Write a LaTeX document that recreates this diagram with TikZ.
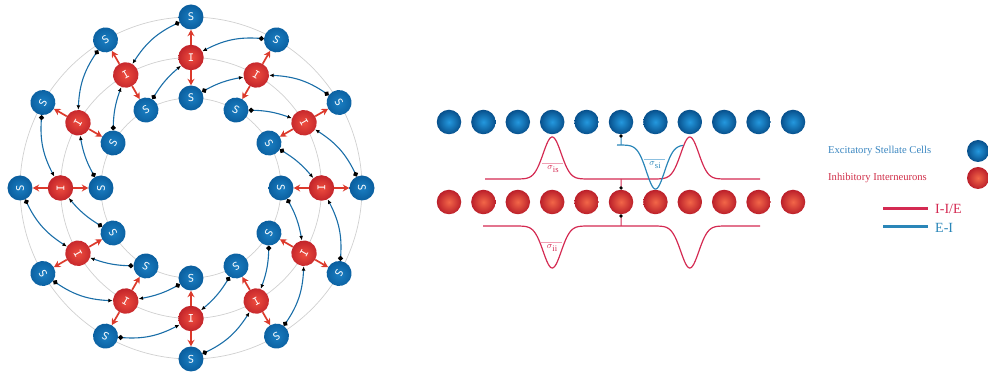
\documentclass[tikz,border=0pt]{standalone}
\usepackage{fontspec}
\setmainfont{Liberation Serif}
\newfontfamily\cellfont{DejaVu Sans Mono}
\usetikzlibrary{arrows.meta,bending}

% cell colours
\definecolor{sIn}{HTML}{1A7EC2}
\definecolor{sOut}{HTML}{0A5E9E}
\definecolor{iIn}{HTML}{EE4C3E}
\definecolor{iOut}{HTML}{C2242A}
\definecolor{bIn}{HTML}{2498DE}
\definecolor{bOut}{HTML}{07508C}
\definecolor{rIn}{HTML}{F26648}
\definecolor{rOut}{HTML}{BB1F2A}
% connector colours
\definecolor{inhArrow}{HTML}{DC3A2C}
\definecolor{excLink}{HTML}{1A6EA8}
\definecolor{crim}{HTML}{D42A52}
\definecolor{skyline}{HTML}{2A86B8}
\definecolor{ringgray}{HTML}{D0D0D0}
\definecolor{legBlue}{HTML}{3A86C0}
\definecolor{legRed}{HTML}{D0304A}
\definecolor{barRed}{HTML}{F0A0B4}
\definecolor{barBlue}{HTML}{8CC0E0}

\newcommand{\widthlabel}[1]{$\sigma$\raisebox{-3pt}{\fontsize{8.5}{8.5}\selectfont #1}}

\begin{document}
\begin{tikzpicture}[x=1pt,y=1pt,
  declare function={gs(\x,\m,\s)=exp(-min(0.5*((\x-\m)/\s)^2,14));},
  ringS/.style={circle, minimum size=25pt, inner sep=0pt, shade,
    inner color=sIn, outer color=sOut, text=white,
    font=\cellfont\fontsize{10.5}{10.5}\selectfont},
  ringI/.style={ringS, minimum size=25.5pt, inner color=iIn, outer color=iOut},
  ballB/.style={circle, minimum size=24.5pt, inner sep=0pt, shade,
    inner color=bIn, outer color=bOut},
  ballR/.style={ballB, inner color=rIn, outer color=rOut},
  redarrow/.style={draw=inhArrow, line width=1.7pt,
    -{Stealth[length=6.5pt,width=7pt,color=inhArrow]}},
  bluelink/.style={draw=excLink, line width=1.1pt,
    {Circle[length=5pt,color=black]}-{Latex[length=4.5pt,width=3.8pt,color=black]}},
  redcurve/.style={draw=crim, line width=1.2pt},
  bluecurve/.style={draw=skyline, line width=1.2pt},
  dotlink/.style={line width=1pt, {Circle[length=3.2pt,color=black]}-},
  lbl/.style={inner sep=0pt, font=\fontsize{9}{9}\selectfont},
  legtxt/.style={anchor=west, inner sep=0pt, font=\fontsize{10.6}{12}\selectfont},
  legkey/.style={anchor=west, inner sep=0pt, font=\fontsize{14}{16}\selectfont},
]
\useasboundingbox (-191,-186) rectangle (797,188);

% ---- ring network ----
\foreach \rr in {171,130.5,90}
  \draw[ringgray, line width=0.7pt] (0,0) circle (\rr);

\foreach \k in {0,...,11}{
  \pgfmathsetmacro\a{30*\k}
  \pgfmathsetmacro\rot{30*\k-90}
  \node[ringS, rotate=\rot] (so\k) at (\a:171) {S};
  \node[ringI, rotate=\rot] (i\k) at (\a:130.5) {I};
  \node[ringS, rotate=\rot] (si\k) at (\a:90) {S};
}

\foreach \k in {0,...,11}{
  \pgfmathtruncatemacro\km{mod(\k+11,12)}
  \pgfmathtruncatemacro\kp{mod(\k+1,12)}
  \draw[redarrow] (i\k) -- (so\k);
  \draw[redarrow] (i\k) -- (si\k);
  \draw[bluelink] (so\km) to[bend right=17] (i\k);
  \draw[bluelink] (si\kp) to[bend left=10] (i\k);
}

% ---- linear layers and connectivity profiles ----
\begin{scope}[shift={(-191,188)}, yscale=-1]
  \foreach \k in {0,...,10}{
    \pgfmathsetmacro\xx{449+34.4*\k}
    \node[ballB] (b\k) at (\xx,122) {};
    \node[ballR] (r\k) at (\xx,202) {};
  }

  % I -> S profile
  \draw[redcurve] plot[domain=485:760, samples=240]
    (\x,{179-42*gs(\x,552.2,9)-42*gs(\x,689.8,9)});
  % I -> I profile
  \draw[redcurve] plot[domain=483:760, samples=240]
    (\x,{226+42*gs(\x,552.2,9)+42*gs(\x,689.8,9)});
  % S -> I profile
  \draw[bluecurve] plot[domain=617:683, samples=120]
    (\x,{145+44*gs(\x,655.5,9)});

  \coordinate (jb) at (621,145);
  \coordinate (jt) at (621,179);
  \coordinate (jl) at (621,226);
  \draw[bluecurve, dotlink] (b5) -- (jb);
  \draw[redcurve, dotlink] (r5) -- (jt);
  \draw[redcurve, dotlink] (r5) -- (jl);

  % width labels
  \draw[barRed, line width=0.6pt] (542,163) -- (563,163);
  \node[lbl, text=crim] (sis) at (553,169.5) {\widthlabel{is}};
  \draw[barBlue, line width=0.6pt] (644,159) -- (665,159);
  \node[lbl, text=skyline] (ssi) at (655,165.5) {\widthlabel{si}};
  \draw[barRed, line width=0.6pt] (541,242) -- (562,242);
  \node[lbl, text=crim] (sii) at (552,248.5) {\widthlabel{ii}};

  % legend
  \node[legtxt, text=legBlue] (lge) at (828,151) {Excitatory Stellate Cells};
  \node[ballB, minimum size=22pt] (lgeb) at (978,151) {};
  \node[legtxt, text=legRed] (lgi) at (828,178) {Inhibitory Interneurons};
  \node[ballR, minimum size=22pt] (lgib) at (978,178) {};
  \draw[crim, line width=3pt] (883,208.3) -- (928,208.3);
  \node[legkey, text=crim] (lgii) at (935,209) {I-I/E};
  \draw[skyline, line width=3pt] (883,226.7) -- (928,226.7);
  \node[legkey, text=skyline] (lgei) at (935,227.5) {E-I};
\end{scope}
\end{tikzpicture}
\end{document}
